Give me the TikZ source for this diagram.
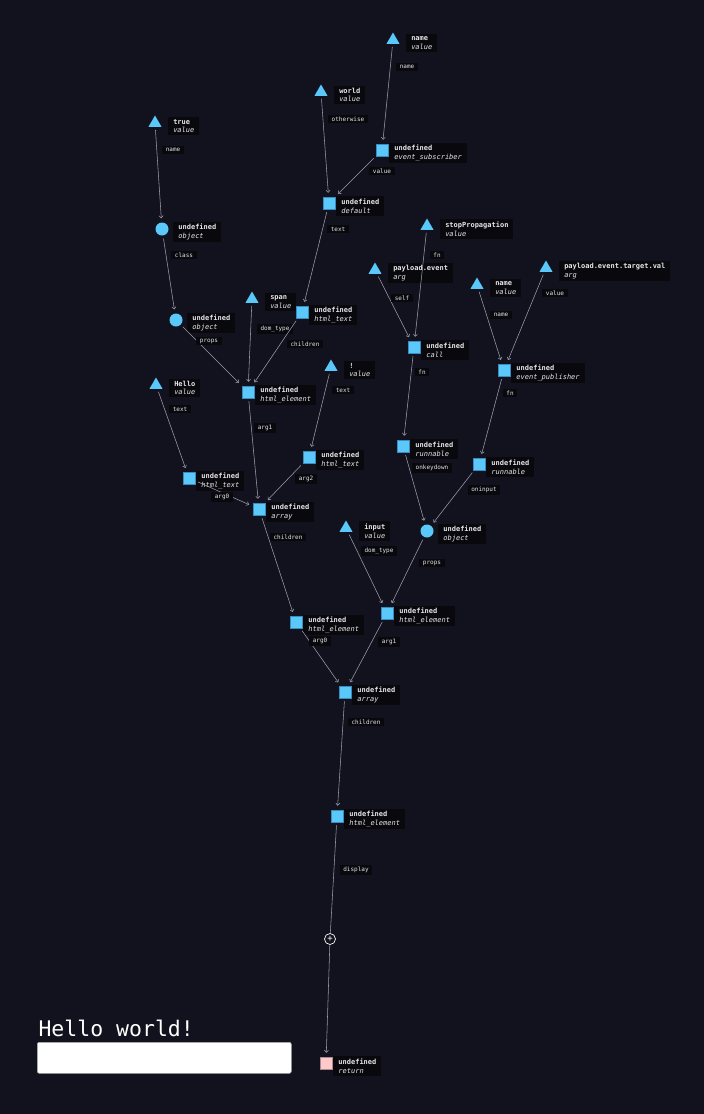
\documentclass[tikz,border=0pt]{standalone}
\usepackage{fontspec}
\setmainfont{DejaVu Sans Mono}
\usepackage{tikz}
\usetikzlibrary{positioning, shapes.geometric, arrows.meta}

\definecolor{bgcol}{HTML}{12121F}
\definecolor{labbg}{HTML}{08080D}
\definecolor{labtext}{HTML}{E6E6EA}
\definecolor{nodeblue}{HTML}{5BC8FA}
\definecolor{nodeedge}{HTML}{3A8CC0}
\definecolor{retpink}{HTML}{FFC9C9}
\definecolor{retedge}{HTML}{A88C92}
\definecolor{edgecol}{HTML}{9C9CAA}

\newcommand{\nodetext}[2]{\textbf{#1}\\\textit{#2}}

\begin{document}
\begin{tikzpicture}[x=1pt, y=-1pt]
\tikzset{
  tri/.style={regular polygon, regular polygon sides=3, fill=nodeblue, inner sep=0pt, minimum size=15pt},
  sq/.style={rectangle, fill=nodeblue, draw=nodeedge, line width=0.5pt, minimum size=12pt, inner sep=0pt},
  circ/.style={circle, fill=nodeblue, minimum size=13pt, inner sep=0pt},
  ret/.style={sq, fill=retpink, draw=retedge},
  nlab/.style={fill=labbg, text=labtext, align=left, inner xsep=5pt, inner ysep=2.5pt, yshift=-3pt,
    font=\fontsize{7}{8.5}\selectfont},
  elab/.style={fill=labbg, text=labtext, inner xsep=3.5pt, inner ysep=2pt, font=\fontsize{6}{7}\selectfont},
  link/.style={draw=edgecol, line width=0.55pt, shorten <=3pt, shorten >=4pt},
  plusnode/.style={circle, draw=white, fill=bgcol, line width=0.7pt, minimum size=11pt,
    inner sep=0pt, text=white, font=\fontsize{9}{9}\selectfont},
  inputbox/.style={rectangle, rounded corners=2pt, fill=white, draw=gray!70, line width=0.6pt,
    anchor=north west, minimum width=254pt, minimum height=31pt},
}
\tikzset{>={Straight Barb[length=2.2pt, width=4pt]}}

  \fill[bgcol] (0, 0) rectangle (704, 1114);
  \useasboundingbox (0, 0) rectangle (704, 1114);

  % value nodes
  \node [tri] (tname) at (393, 40) {} node [nlab, right=8.5pt of tname] (tname-l) {\nodetext{name}{value}};
  \node [tri] (tworld) at (321, 92) {} node [nlab, right=8.5pt of tworld] (tworld-l) {\nodetext{world}{value}};
  \node [tri] (ttrue) at (155, 123) {} node [nlab, right=8.5pt of ttrue] (ttrue-l) {\nodetext{true}{value}};
  \node [tri] (tstop) at (427, 226) {} node [nlab, right=8.5pt of tstop] (tstop-l) {\nodetext{stopPropagation}{value}};
  \node [tri] (tpayload) at (375, 270) {} node [nlab, right=8.5pt of tpayload] (tpayload-l) {\nodetext{payload.event}{arg}};
  \node [tri] (tname2) at (477, 285) {} node [nlab, right=8.5pt of tname2] (tname2-l) {\nodetext{name}{value}};
  \node [tri] (ttarget) at (546, 268) {} node [nlab, right=8.5pt of ttarget] (ttarget-l) {\nodetext{payload.event.target.val}{arg}};
  \node [tri] (tspan) at (252, 299) {} node [nlab, right=8.5pt of tspan] (tspan-l) {\nodetext{span}{value}};
  \node [tri] (tbang) at (331, 367) {} node [nlab, right=8.5pt of tbang] (tbang-l) {\nodetext{!}{value}};
  \node [tri] (thello) at (156, 385) {} node [nlab, right=8.5pt of thello] (thello-l) {\nodetext{Hello}{value}};
  \node [tri] (tinput) at (346, 528) {} node [nlab, right=8.5pt of tinput] (tinput-l) {\nodetext{input}{value}};

  % objects
  \node [circ] (obj1) at (162, 229) {} node [nlab, right=4.5pt of obj1] (obj1-l) {\nodetext{undefined}{object}};
  \node [circ] (obj2) at (176, 320) {} node [nlab, right=4.5pt of obj2] (obj2-l) {\nodetext{undefined}{object}};
  \node [circ] (obj3) at (427, 531) {} node [nlab, right=4.5pt of obj3] (obj3-l) {\nodetext{undefined}{object}};

  % calls
  \node [sq] (evsub) at (382, 150) {} node [nlab, right=1pt of evsub] (evsub-l) {\nodetext{undefined}{event\_subscriber}};
  \node [sq] (dflt) at (329, 203) {} node [nlab, right=1pt of dflt] (dflt-l) {\nodetext{undefined}{default}};
  \node [sq] (htext1) at (302, 312) {} node [nlab, right=1pt of htext1] (htext1-l) {\nodetext{undefined}{html\_text}};
  \node [sq] (call) at (414, 347) {} node [nlab, right=1pt of call] (call-l) {\nodetext{undefined}{call}};
  \node [sq] (evpub) at (504, 370) {} node [nlab, right=1pt of evpub] (evpub-l) {\nodetext{undefined}{event\_publisher}};
  \node [sq] (htmlel1) at (248, 392) {} node [nlab, right=1pt of htmlel1] (htmlel1-l) {\nodetext{undefined}{html\_element}};
  \node [sq] (htext2) at (309, 457) {} node [nlab, right=1pt of htext2] (htext2-l) {\nodetext{undefined}{html\_text}};
  \node [sq] (htext3) at (189, 478) {} node [nlab, right=1pt of htext3] (htext3-l) {\nodetext{undefined}{html\_text}};
  \node [sq] (array1) at (259, 509) {} node [nlab, right=1pt of array1] (array1-l) {\nodetext{undefined}{array}};
  \node [sq] (runn1) at (403, 446) {} node [nlab, right=1pt of runn1] (runn1-l) {\nodetext{undefined}{runnable}};
  \node [sq] (runn2) at (479, 464) {} node [nlab, right=1pt of runn2] (runn2-l) {\nodetext{undefined}{runnable}};
  \node [sq] (htmlel3) at (387, 613) {} node [nlab, right=1pt of htmlel3] (htmlel3-l) {\nodetext{undefined}{html\_element}};
  \node [sq] (htmlel2) at (296, 622) {} node [nlab, right=1pt of htmlel2] (htmlel2-l) {\nodetext{undefined}{html\_element}};
  \node [sq] (array2) at (345, 692) {} node [nlab, right=1pt of array2] (array2-l) {\nodetext{undefined}{array}};
  \node [sq] (htmlel4) at (337, 816) {} node [nlab, right=1pt of htmlel4] (htmlel4-l) {\nodetext{undefined}{html\_element}};
  \node [ret] (ret) at (326, 1063) {} node [nlab, right=1pt of ret] (ret-l) {\nodetext{undefined}{return}};

  \node [plusnode] (plus) at (330, 939) {+};

  % rendered output
  \node [anchor=base west, text=white, font=\fontsize{21.5}{22}\selectfont] (hello) at (35, 1036) {Hello world!};
  \node [inputbox] (inputfield) at (37, 1042) {};

  % connectors
  \draw [link, ->] (tname) -- (evsub) node [elab] (e1) at (407, 67) {name};
  \draw [link, ->] (evsub) -- (dflt) node [elab] (e2) at (382, 171) {value};
  \draw [link, ->] (tworld) -- (dflt) node [elab] (e3) at (348, 119) {otherwise};
  \draw [link, ->] (ttrue) -- (obj1) node [elab] (e4) at (173, 150) {name};
  \draw [link, ->] (obj1) -- (obj2) node [elab] (e5) at (184, 255) {class};
  \draw [link, ->] (dflt) -- (htext1) node [elab] (e6) at (338, 229) {text};
  \draw [link, ->] (obj2) -- (htmlel1) node [elab] (e7) at (209, 341) {props};
  \draw [link, ->] (tspan) -- (htmlel1) node [elab] (e8) at (275, 329) {dom\_type};
  \draw [link, ->] (htext1) -- (htmlel1) node [elab] (e9) at (305, 344) {children};
  \draw [link, ->] (tstop) -- (call) node [elab] (e10) at (437, 255) {fn};
  \draw [link, ->] (tpayload) -- (call) node [elab] (e11) at (402, 298) {self};
  \draw [link, ->] (call) -- (runn1) node [elab] (e12) at (422, 372) {fn};
  \draw [link, ->] (tname2) -- (evpub) node [elab] (e13) at (501, 315) {name};
  \draw [link, ->] (ttarget) -- (evpub) node [elab] (e14) at (555, 293) {value};
  \draw [link, ->] (evpub) -- (runn2) node [elab] (e15) at (510, 393) {fn};
  \draw [link, ->] (tbang) -- (htext2) node [elab] (e16) at (343, 390) {text};
  \draw [link, ->] (thello) -- (htext3) node [elab] (e17) at (180, 409) {text};
  \draw [link, ->] (htmlel1) -- (array1) node [elab] (e18) at (265, 428) {arg1};
  \draw [link, ->] (htext2) -- (array1) node [elab] (e19) at (306, 479) {arg2};
  \draw [link, ->] (htext3) -- (array1) node [elab] (e20) at (222, 497) {arg0};
  \draw [link, ->] (runn1) -- (obj3) node [elab] (e21) at (432, 468) {onkeydown};
  \draw [link, ->] (runn2) -- (obj3) node [elab] (e22) at (484, 490) {oninput};
  \draw [link, ->] (tinput) -- (htmlel3) node [elab] (e23) at (379, 551) {dom\_type};
  \draw [link, ->] (obj3) -- (htmlel3) node [elab] (e24) at (432, 563) {props};
  \draw [link, ->] (array1) -- (htmlel2) node [elab] (e25) at (288, 537) {children};
  \draw [link, ->] (htmlel2) -- (array2) node [elab] (e26) at (320, 641) {arg0};
  \draw [link, ->] (htmlel3) -- (array2) node [elab] (e27) at (389, 642) {arg1};
  \draw [link, ->] (array2) -- (htmlel4) node [elab] (e28) at (366, 722) {children};
  \draw [link, shorten >=0pt] (htmlel4) -- (plus) node [elab] (e29) at (356, 870) {display};
  \draw [link, shorten <=0pt, ->] (plus) -- (ret);

\end{tikzpicture}
\end{document}
